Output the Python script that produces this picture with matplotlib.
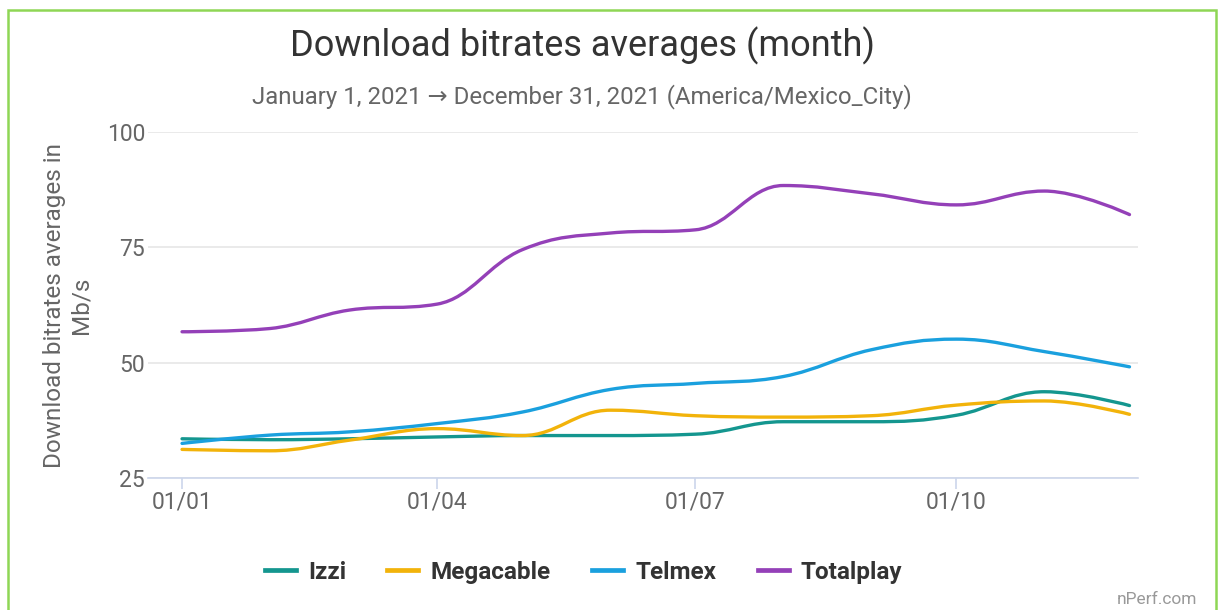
import numpy as np
import matplotlib
matplotlib.use("Agg")
import matplotlib.pyplot as plt
from matplotlib.path import Path
from matplotlib.patches import PathPatch, Rectangle
from matplotlib.lines import Line2D

plt.rcParams['font.family'] = ['Roboto', 'DejaVu Sans']

# month starts, as day-of-year offsets (2021)
months = ['01/01', '01/02', '01/03', '01/04', '01/05', '01/06',
          '01/07', '01/08', '01/09', '01/10', '01/11', '01/12']
days = [0, 31, 59, 90, 120, 151, 181, 212, 243, 273, 304, 334]
tick_labels = ['01/01', '01/04', '01/07', '01/10']
tick_days = [0, 90, 181, 273]

izzi = [33.5, 33.3, 33.5, 33.9, 34.2, 34.2, 34.5, 37.2, 37.2, 38.6, 43.7, 40.7]
megacable = [31.2, 30.9, 33.2, 35.7, 34.2, 39.7, 38.5, 38.2, 38.5, 40.8, 41.7, 38.8]
telmex = [32.5, 34.3, 35.0, 36.8, 39.3, 44.2, 45.5, 47.0, 52.8, 55.1, 52.4, 49.1]
totalplay = [56.7, 57.4, 61.4, 62.7, 74.5, 78.1, 78.8, 88.4, 86.6, 84.2, 87.2, 82.1]

series = [('Izzi', izzi, '#14968f'),
          ('Megacable', megacable, '#f2b30a'),
          ('Telmex', telmex, '#1aa0de'),
          ('Totalplay', totalplay, '#9440b8')]


def spline_path(xs, ys, smoothing=1.5):
    # highcharts-like spline: cubic bezier through every point
    n = len(xs)
    denom = smoothing + 1
    left = [None] * n
    right = [None] * n
    for i in range(n):
        x, y = xs[i], ys[i]
        if i == 0 or i == n - 1:
            left[i] = (x, y)
            right[i] = (x, y)
            continue
        lx, ly = xs[i - 1], ys[i - 1]
        nx, ny = xs[i + 1], ys[i + 1]
        lcx = (smoothing * x + lx) / denom
        lcy = (smoothing * y + ly) / denom
        rcx = (smoothing * x + nx) / denom
        rcy = (smoothing * y + ny) / denom
        if rcx != lcx:
            corr = (rcy - lcy) * (rcx - x) / (rcx - lcx) + y - rcy
            lcy += corr
            rcy += corr
        if lcy > ly and lcy > y:
            lcy = max(ly, y)
            rcy = 2 * y - lcy
        elif lcy < ly and lcy < y:
            lcy = min(ly, y)
            rcy = 2 * y - lcy
        if rcy > ny and rcy > y:
            rcy = max(ny, y)
            lcy = 2 * y - rcy
        elif rcy < ny and rcy < y:
            rcy = min(ny, y)
            lcy = 2 * y - rcy
        left[i] = (lcx, lcy)
        right[i] = (rcx, rcy)
    verts = [(xs[0], ys[0])]
    codes = [Path.MOVETO]
    for i in range(1, n):
        verts += [right[i - 1], left[i], (xs[i], ys[i])]
        codes += [Path.CURVE4] * 3
    return Path(verts, codes)


fig = plt.figure(figsize=(12.18, 6.10), dpi=100)
ax = fig.add_axes([148 / 1218, 1 - 478 / 610, (1138 - 148) / 1218, (478 - 132) / 610])

for name, vals, col in series:
    p = spline_path(days, vals)
    ax.add_patch(PathPatch(p, facecolor='none', edgecolor=col, lw=2.4,
                           capstyle='round', joinstyle='round'))

ax.set_xlim(-12, 337)
ax.set_ylim(25, 100)
ax.set_yticks([25, 50, 75, 100])
ax.set_xticks(tick_days)
ax.set_xticklabels(tick_labels)
ax.grid(axis='y', color='#e6e6e6', lw=1.2)
ax.set_axisbelow(True)
for s in ['top', 'right', 'left']:
    ax.spines[s].set_visible(False)
ax.spines['bottom'].set_color('#ccd6eb')
ax.spines['bottom'].set_linewidth(1.2)
ax.tick_params(axis='x', colors='#ccd6eb', length=8, width=1.2, labelsize=16.5,
               labelcolor='#666666', pad=1)
ax.tick_params(axis='y', length=0, labelsize=16.5, labelcolor='#666666', pad=2)
ax.set_ylabel('Download bitrates averages in\nMb/s', fontsize=17.5, color='#666666',
              linespacing=1.2)
ax.yaxis.set_label_coords(-0.056, 0.5)

fig.text(0.478, 0.925, 'Download bitrates averages (month)', ha='center', va='center',
         fontsize=26, color='#333333')
fig.text(0.478, 0.842, 'January 1, 2021 \u2192 December 31, 2021 (America/Mexico_City)',
         ha='center', va='center', fontsize=17.3, color='#666666')

handles = [Line2D([], [], color=c, lw=3.4) for _, _, c in series]
leg = fig.legend(handles, [n for n, _, _ in series], loc='center', ncol=4,
                 bbox_to_anchor=(0.479, 0.062), frameon=False, handlelength=1.28,
                 columnspacing=1.7, handletextpad=0.5,
                 prop={'size': 17.5, 'weight': 'bold'})
for t in leg.get_texts():
    t.set_color('#333333')

fig.text(0.983, 0.018, 'nPerf.com', ha='right', va='center', fontsize=12.5, color='#999999')

fig.patches.append(Rectangle((8 / 1218, -0.02), (1216 - 8) / 1218, 1 - 10 / 610 + 0.02,
                             transform=fig.transFigure, fill=False,
                             edgecolor='#8fd655', lw=1.8))

fig.savefig('out.png', dpi=100)
